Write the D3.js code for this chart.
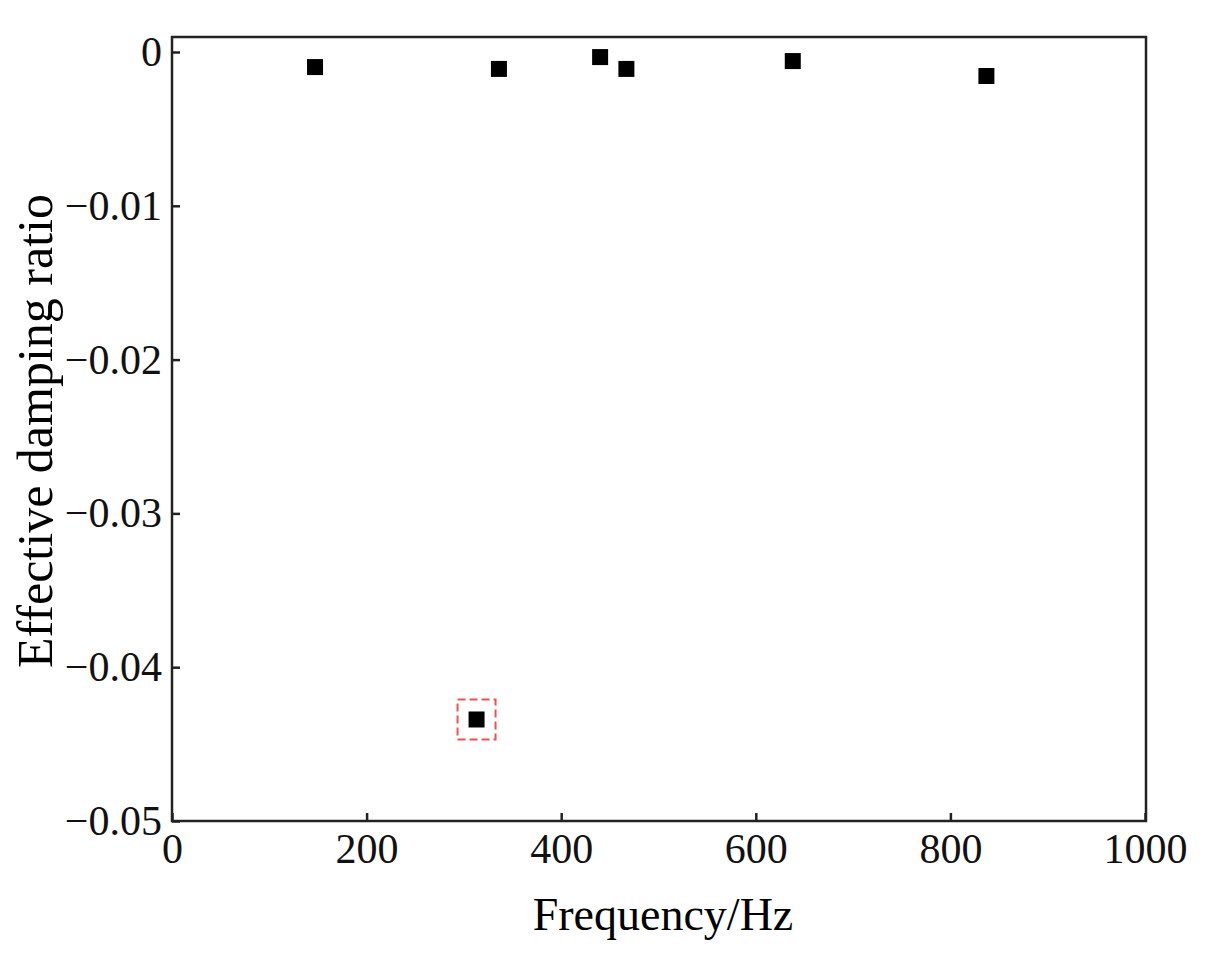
<!DOCTYPE html>
<html><head><meta charset="utf-8">
<script src="https://cdn.jsdelivr.net/npm/d3@7"></script>
<style>body{margin:0;background:#fff}</style>
</head><body><svg id="c" width="1228" height="956"></svg>
<script>
const freqs = [147, 336, 440, 467, 638, 837, 313];
const ratios = [-0.00098, -0.0011, -0.00033, -0.0011, -0.00059, -0.00156, -0.0434];
const highlighted = [false, false, false, false, false, false, true];
const xTicks = [0, 200, 400, 600, 800, 1000];
const yTicks = [0, -0.01, -0.02, -0.03, -0.04, -0.05];

const svg = d3.select("#c");
const L = 172, R = 1146, T = 37, B = 821;
const x = d3.scaleLinear().domain([0, 1000]).range([L, R - 1]);
const y = d3.scaleLinear().domain([-0.05, 0]).range([B, 52]);
const font = "'Liberation Serif', 'Times New Roman', serif";

// frame
svg.append("rect").attr("x", L).attr("y", T).attr("width", R - L).attr("height", B - T)
  .attr("fill", "none").attr("stroke", "#222").attr("stroke-width", 2.5);

const xa = svg.append("g").attr("transform", `translate(0,${B})`)
  .call(d3.axisBottom(x).tickValues(xTicks).tickSize(-8).tickPadding(12).tickFormat(d3.format("d")));
const ya = svg.append("g").attr("transform", `translate(${L},0)`)
  .call(d3.axisLeft(y).tickValues(yTicks).tickSize(-8).tickPadding(10)
    .tickFormat(d => d === 0 ? "0" : "\u2212" + Math.abs(d).toFixed(2)));
[xa, ya].forEach(a => {
  a.select(".domain").remove();
  a.selectAll("line").attr("stroke", "#222").attr("stroke-width", 2.5);
  a.selectAll("text").attr("font-family", font).attr("font-size", 42).attr("fill", "#111");
});

svg.append("text").attr("x", (L + R) / 2 + 4).attr("y", 930).attr("text-anchor", "middle")
  .attr("font-family", font).attr("font-size", 46).text("Frequency/Hz");
svg.append("text").attr("transform", `translate(52,${(T + B) / 2 + 2}) rotate(-90)`).attr("text-anchor", "middle")
  .attr("font-family", font).attr("font-size", 50).text("Effective damping ratio");

const pts = freqs.map((f, i) => ({ f, r: ratios[i], h: highlighted[i] }));
svg.selectAll("rect.pt").data(pts).enter().append("rect").attr("class", "pt")
  .attr("x", d => x(d.f) - 8).attr("y", d => y(d.r) - 8).attr("width", 16).attr("height", 16).attr("fill", "#000");
svg.selectAll("rect.hl").data(pts.filter(d => d.h)).enter().append("rect").attr("class", "hl")
  .attr("x", d => x(d.f) - 19).attr("y", d => y(d.r) - 20).attr("width", 38).attr("height", 40)
  .attr("fill", "none").attr("stroke", "#f05050").attr("stroke-width", 2).attr("stroke-dasharray", "8,4");
</script></body></html>
